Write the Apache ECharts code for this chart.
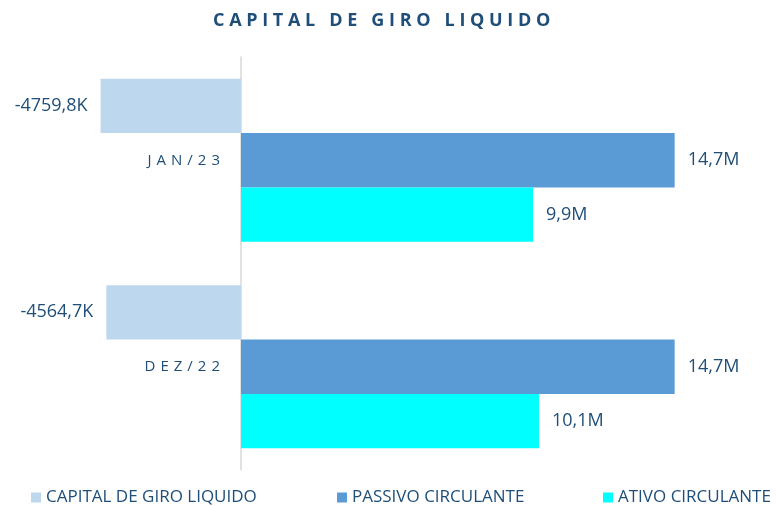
<!DOCTYPE html>
<html>
<head>
<meta charset="utf-8">
<script src="https://cdn.jsdelivr.net/npm/echarts@6/dist/echarts.min.js"></script>
<style>
  html, body { margin: 0; padding: 0; background: #fff; }
  #chart { width: 776px; height: 506px; }
</style>
</head>
<body>
<div id="chart"></div>
<script>
// dados
const categorias = ["JAN/23", "DEZ/22"];
const capitalGiro = [-4759.8e3, -4564.7e3];
const passivoCirculante = [14.7e6, 14.7e6];
const ativoCirculante = [9.9e6, 10.1e6];
const nomesSeries = ["CAPITAL DE GIRO LIQUIDO", "PASSIVO CIRCULANTE", "ATIVO CIRCULANTE"];

const azulTexto = "#1F4E79";
const eixoMin = -8e6;
const eixoMax = 18e6;
const gridEsq = 5;
const gridLarg = 767;

// espaçamento entre letras (canvas não tem letter-spacing)
const espacar = (s, sep) => s.split("").join(sep);

const emMilhoes = (v) => (v / 1e6).toFixed(1).replace(".", ",") + "M";
const emMilhares = (v) => (v / 1e3).toFixed(1).replace(".", ",") + "K";

const rotulo = (pos, fmt) => ({
  show: true,
  position: pos,
  distance: 13,
  color: azulTexto,
  fontSize: 18,
  fontFamily: "Open Sans",
  formatter: (p) => fmt(p.value),
});

const legenda = (nome, x) => ({
  data: [nome],
  bottom: -5,
  left: x,
  itemWidth: 10,
  itemHeight: 10,
  itemGap: 0,
  icon: "rect",
  textStyle: { color: azulTexto, fontSize: 17, fontFamily: "Open Sans" },
});

// eixo de categorias desenhado no zero do eixo de valores (linha + rótulos)
const deslocZero = -gridLarg * (0 - eixoMin) / (eixoMax - eixoMin);

const chart = echarts.init(document.getElementById("chart"));
chart.setOption({
  animation: false,
  title: {
    text: espacar("CAPITAL DE GIRO LIQUIDO", " "),
    left: 208,
    top: 7,
    textStyle: {
      color: azulTexto,
      fontSize: 18,
      fontWeight: "bold",
      fontFamily: "Open Sans",
    },
  },
  legend: [
    legenda(nomesSeries[0], 26),
    legenda(nomesSeries[1], 332),
    legenda(nomesSeries[2], 598),
  ],
  grid: { left: gridEsq, width: gridLarg, top: 57, bottom: 36, outerBoundsMode: "none" },
  xAxis: {
    type: "value",
    min: eixoMin,
    max: eixoMax,
    show: false,
  },
  yAxis: {
    type: "category",
    inverse: true,
    data: categorias,
    offset: deslocZero,
    axisLine: { onZero: false, lineStyle: { color: "#D9D9D9", width: 1.5 } },
    axisTick: { length: 5, lineStyle: { color: "#D9D9D9", width: 1.5 } },
    axisLabel: {
      color: azulTexto,
      fontSize: 15,
      fontFamily: "Open Sans",
      margin: 21,
      padding: [4, 0, 0, 0],
      formatter: (v) => espacar(v, "\u2004"),
    },
  },
  series: [
    {
      name: nomesSeries[0],
      type: "bar",
      data: capitalGiro,
      itemStyle: { color: "#BDD7EE" },
      label: rotulo("left", emMilhares),
      barGap: "0%",
      barCategoryGap: "21%",
    },
    {
      name: nomesSeries[1],
      type: "bar",
      data: passivoCirculante,
      itemStyle: { color: "#5B9BD5" },
      label: rotulo("right", emMilhoes),
    },
    {
      name: nomesSeries[2],
      type: "bar",
      data: ativoCirculante,
      itemStyle: { color: "#00FFFF" },
      label: rotulo("right", emMilhoes),
    },
  ],
});
</script>
</body>
</html>
